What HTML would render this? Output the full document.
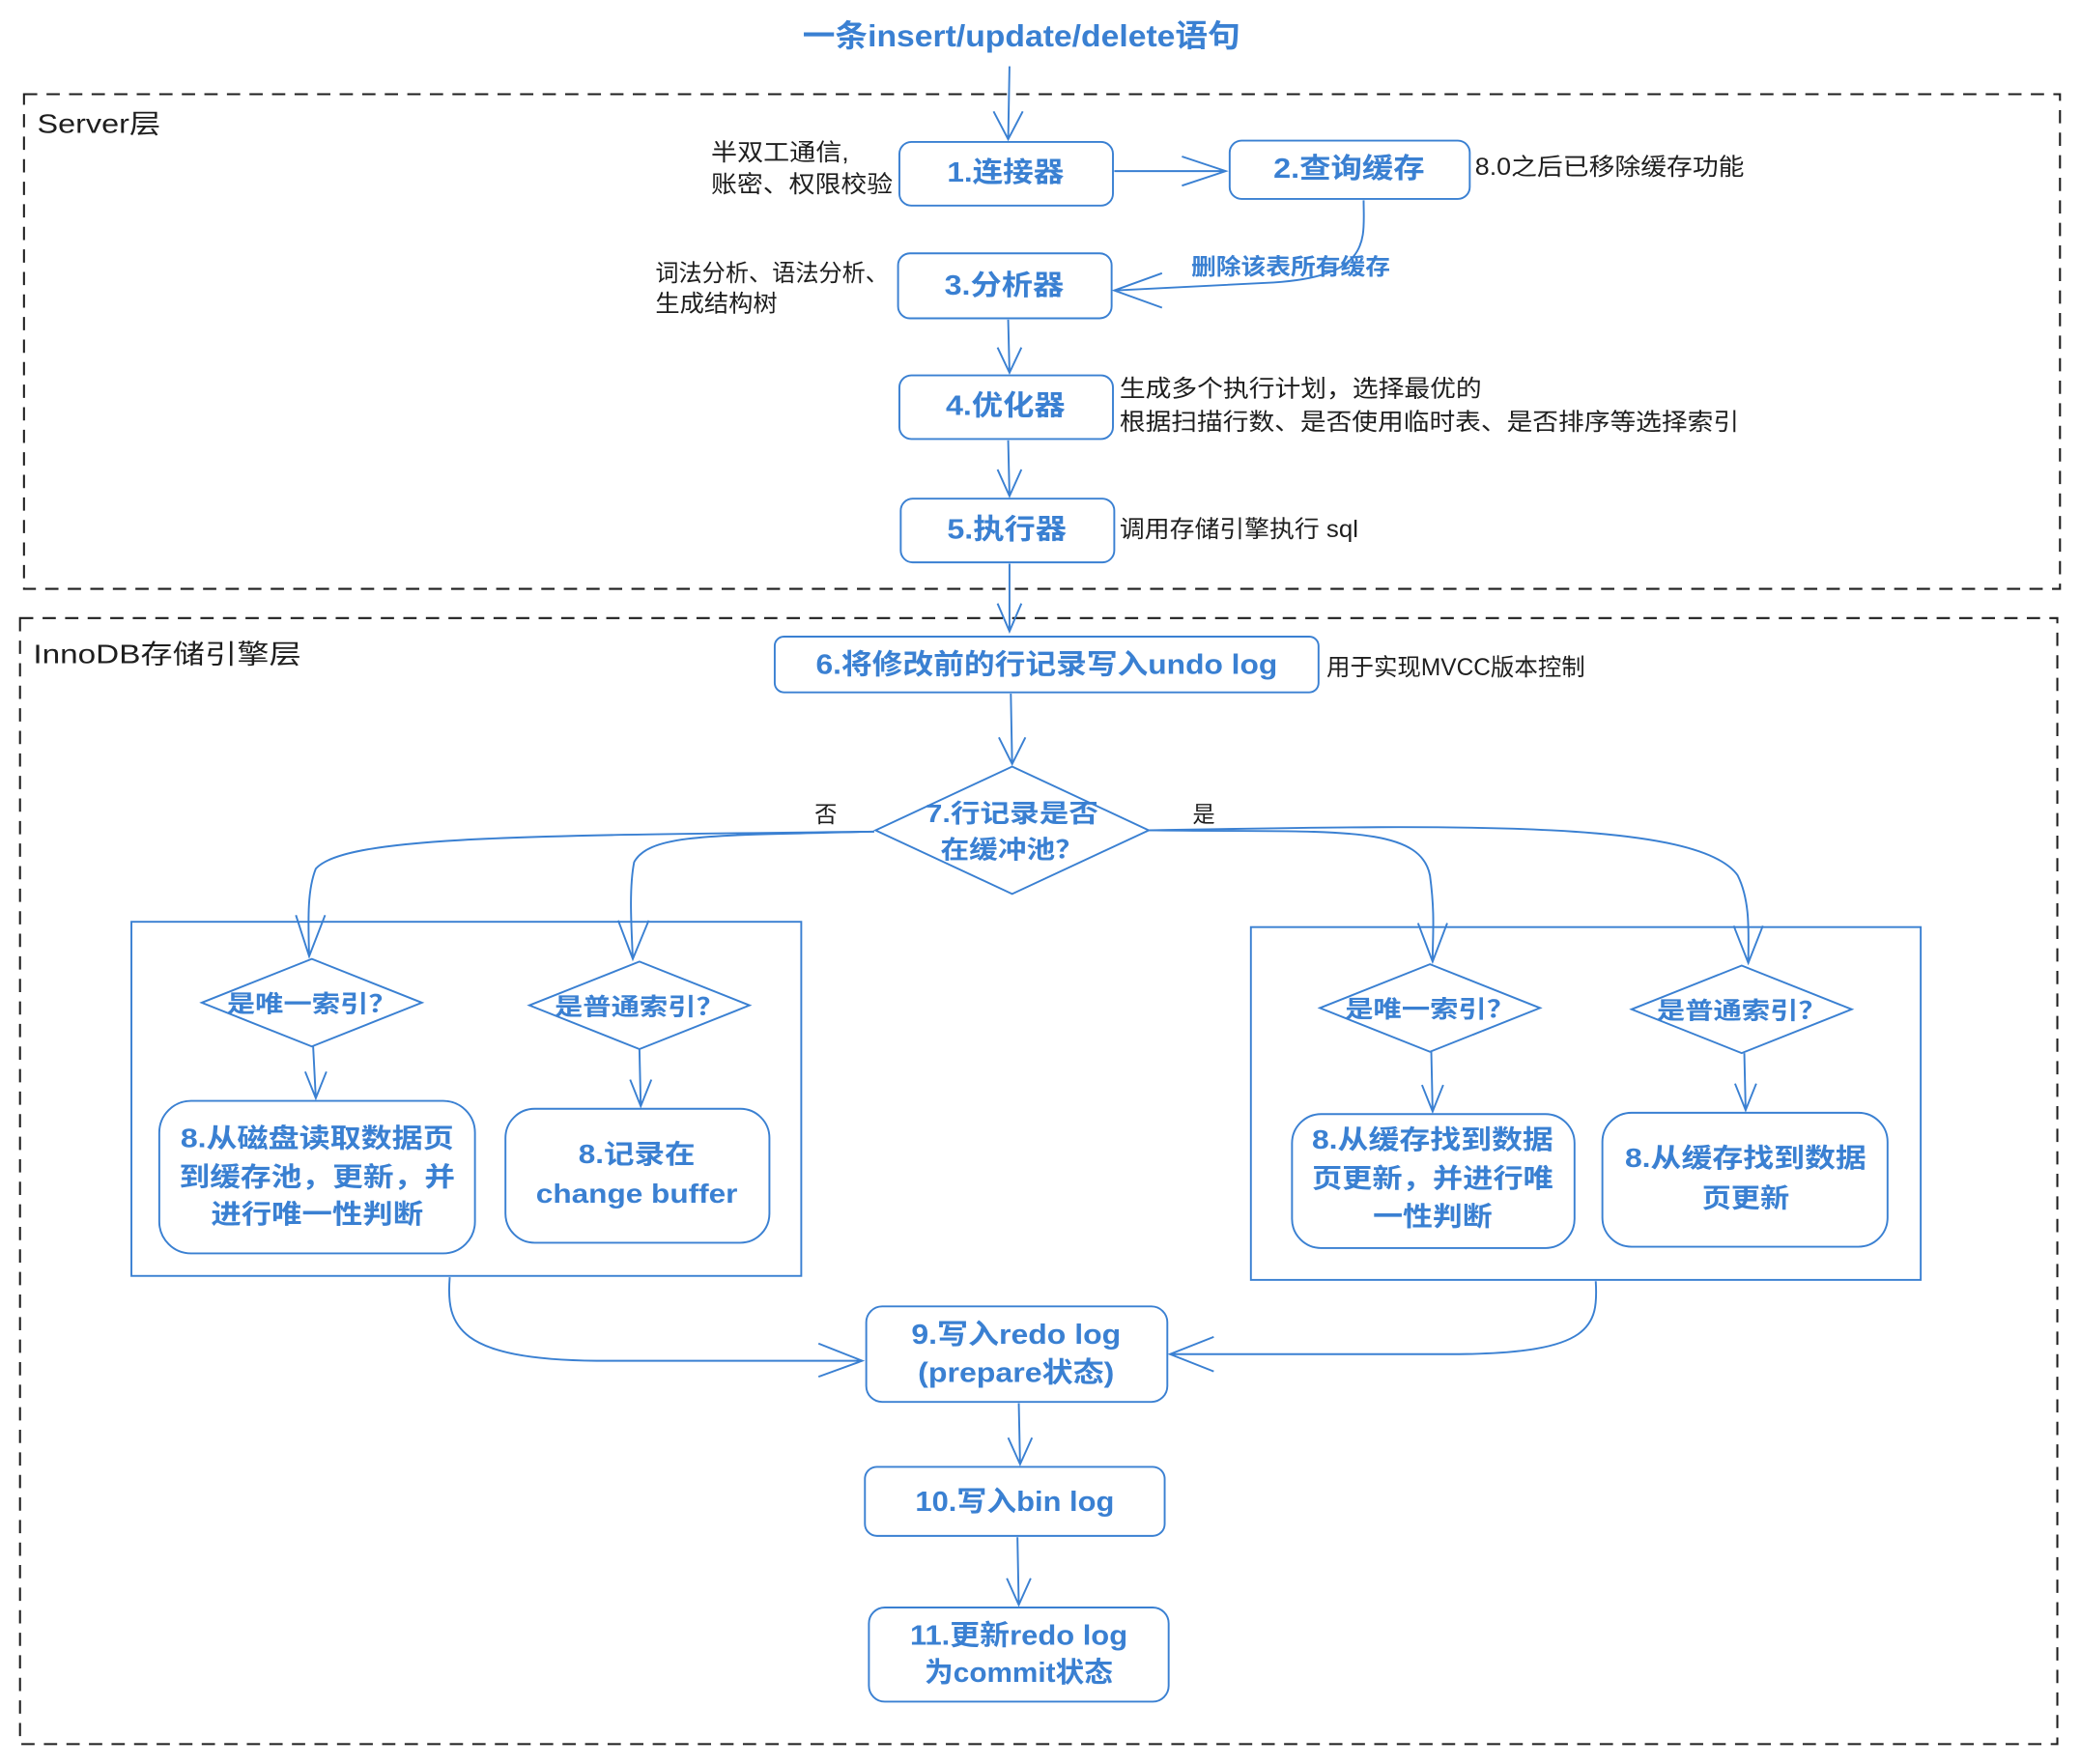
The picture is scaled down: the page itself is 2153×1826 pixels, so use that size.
<!DOCTYPE html>
<html><head><meta charset="utf-8"><style>
html,body{margin:0;padding:0;background:#fff;}
svg{display:block;}
text{font-family:"Liberation Sans","Noto Sans CJK SC",sans-serif;}
.b{fill:#3a80d2;font-weight:600;}
.k{fill:#1e1e1e;}
.s{fill:none;stroke:#3a80d2;stroke-width:1.4;}
.d{fill:none;stroke:#1e1e1e;stroke-width:1.5;stroke-dasharray:10 7;}
</style></head><body>
<svg width="2153" height="1826" viewBox="0 0 1568 1330" xmlns="http://www.w3.org/2000/svg">
<rect width="1568" height="1330" fill="#fff"/>
<text x="605" y="35" class="b" font-size="23" textLength="330" lengthAdjust="spacingAndGlyphs">一条insert/update/delete语句</text>
<rect x="18" y="71" width="1535" height="373" class="d"/>
<text x="28" y="100" class="k" font-size="20" textLength="93" lengthAdjust="spacingAndGlyphs">Server层</text>
<rect x="15" y="466" width="1536" height="849" class="d"/>
<text x="25" y="500" class="k" font-size="20" textLength="202" lengthAdjust="spacingAndGlyphs">InnoDB存储引擎层</text>

<g class="s">
<rect x="678" y="107" width="161" height="48" rx="9"/>
<rect x="927" y="106" width="181" height="44" rx="9"/>
<rect x="677" y="191" width="161" height="49" rx="9"/>
<rect x="678" y="283" width="161" height="48" rx="9"/>
<rect x="679" y="376" width="161" height="48" rx="9"/>
<rect x="584" y="480" width="410" height="42" rx="7"/>
<polygon points="763,578 866,626 763,674 660,626"/>
<rect x="99" y="695" width="505" height="267"/>
<rect x="943" y="699" width="505" height="266"/>
<polygon points="235,723 318,756 235,789 152,756"/>
<polygon points="482,725 565,758 482,791 399,758"/>
<polygon points="1078,727 1161,760 1078,793 995,760"/>
<polygon points="1313,728 1396,761 1313,794 1230,761"/>
<rect x="120" y="830" width="238" height="115" rx="24"/>
<rect x="381" y="836" width="199" height="101" rx="22"/>
<rect x="974" y="840" width="213" height="101" rx="22"/>
<rect x="1208" y="839" width="215" height="101" rx="22"/>
<rect x="653" y="985" width="227" height="72" rx="12"/>
<rect x="652" y="1106" width="226" height="52" rx="9"/>
<rect x="655" y="1212" width="226" height="71" rx="12"/>

<path d="M761 50 L760 105 M749 84 L760 105 L771 84"/>
<path d="M840 129 L924 129 M891 118 L924 129 L891 140"/>
<path d="M1028 151 C1028 180 1035 208 960 213 L840 219 M876 206 L840 219 L876 232"/>
<path d="M760 241 L761 281 M752 262 L761 281 L770 262"/>
<path d="M760 332 L761 374 M752 354 L761 374 L770 354"/>
<path d="M761 425 L761 476 M752 455 L761 476 L770 455"/>
<path d="M762 523 L763 576 M753 556 L763 576 L773 556"/>
<path d="M659 627 C400 630 260 630 238 655 C232 670 232 690 233 721 M223 690 L233 721 L245 690"/>
<path d="M659 627 C540 630 490 628 478 650 C474 670 476 700 477 723 M466 694 L477 723 L489 694"/>
<path d="M866 626 C1000 628 1070 620 1078 660 C1082 690 1080 705 1080 725 M1069 696 L1080 725 L1091 696"/>
<path d="M866 626 C1100 622 1280 618 1310 660 C1320 680 1318 705 1318 726 M1307 698 L1318 726 L1329 698"/>
<path d="M236 789 L238 828 M230 808 L238 828 L246 808"/>
<path d="M482 791 L483 834 M475 814 L483 834 L491 814"/>
<path d="M1079 793 L1080 838 M1072 818 L1080 838 L1088 818"/>
<path d="M1315 794 L1316 837 M1308 817 L1316 837 L1324 817"/>
<path d="M339 963 C336 1000 345 1025 450 1026 L650 1026 M617 1013 L650 1026 L617 1038"/>
<path d="M1203 966 C1205 1000 1200 1020 1100 1021 L882 1021 M915 1008 L882 1021 L915 1034"/>
<path d="M768 1058 L769 1104 M760 1084 L769 1104 L778 1084"/>
<path d="M767 1159 L768 1210 M759 1190 L768 1210 L777 1190"/>
</g>

<g class="b" font-size="21" text-anchor="middle" lengthAdjust="spacingAndGlyphs">
<text x="758" y="137" textLength="88" lengthAdjust="spacingAndGlyphs">1.连接器</text>
<text x="1017" y="134" textLength="114" lengthAdjust="spacingAndGlyphs">2.查询缓存</text>
<text x="757" y="222" textLength="90" lengthAdjust="spacingAndGlyphs">3.分析器</text>
<text x="758" y="313" textLength="90" lengthAdjust="spacingAndGlyphs">4.优化器</text>
<text x="759" y="406" textLength="90" lengthAdjust="spacingAndGlyphs">5.执行器</text>
<text x="789" y="508" textLength="348" lengthAdjust="spacingAndGlyphs">6.将修改前的行记录写入undo log</text>
<text x="763" y="620" font-size="19" textLength="130" lengthAdjust="spacingAndGlyphs">7.行记录是否</text>
<text x="763" y="647" font-size="19" textLength="108" lengthAdjust="spacingAndGlyphs">在缓冲池？</text>
<text x="235" y="763" font-size="18" textLength="128" lengthAdjust="spacingAndGlyphs">是唯一索引？</text>
<text x="482" y="765" font-size="18" textLength="128" lengthAdjust="spacingAndGlyphs">是普通索引？</text>
<text x="1078" y="767" font-size="18" textLength="128" lengthAdjust="spacingAndGlyphs">是唯一索引？</text>
<text x="1313" y="768" font-size="18" textLength="128" lengthAdjust="spacingAndGlyphs">是普通索引？</text>
<text x="239" y="865" font-size="20" textLength="206" lengthAdjust="spacingAndGlyphs">8.从磁盘读取数据页</text>
<text x="239" y="894" font-size="20" textLength="208" lengthAdjust="spacingAndGlyphs">到缓存池，更新，并</text>
<text x="239" y="922" font-size="20" textLength="160" lengthAdjust="spacingAndGlyphs">进行唯一性判断</text>
<text x="480" y="877" font-size="20" textLength="88" lengthAdjust="spacingAndGlyphs">8.记录在</text>
<text x="480" y="907" font-size="20" textLength="152" lengthAdjust="spacingAndGlyphs">change buffer</text>
<text x="1080" y="866" font-size="20" textLength="182" lengthAdjust="spacingAndGlyphs">8.从缓存找到数据</text>
<text x="1080" y="895" font-size="20" textLength="182" lengthAdjust="spacingAndGlyphs">页更新，并进行唯</text>
<text x="1080" y="924" font-size="20" textLength="90" lengthAdjust="spacingAndGlyphs">一性判断</text>
<text x="1316" y="880" font-size="20" textLength="182" lengthAdjust="spacingAndGlyphs">8.从缓存找到数据</text>
<text x="1316" y="910" font-size="20" textLength="66" lengthAdjust="spacingAndGlyphs">页更新</text>
<text x="766" y="1013" textLength="158" lengthAdjust="spacingAndGlyphs">9.写入redo log</text>
<text x="766" y="1042" textLength="148" lengthAdjust="spacingAndGlyphs">(prepare状态)</text>
<text x="765" y="1139" textLength="150" lengthAdjust="spacingAndGlyphs">10.写入bin log</text>
<text x="768" y="1240" textLength="164" lengthAdjust="spacingAndGlyphs">11.更新redo log</text>
<text x="768" y="1268" textLength="142" lengthAdjust="spacingAndGlyphs">为commit状态</text>
</g>
<text x="898" y="207" class="b" font-size="17" font-weight="400" textLength="150" lengthAdjust="spacingAndGlyphs">删除该表所有缓存</text>
<text x="614" y="620" class="k" font-size="17">否</text>
<text x="899" y="620" class="k" font-size="17">是</text>

<g class="k" font-size="18">
<text x="536" y="121" textLength="104" lengthAdjust="spacingAndGlyphs">半双工通信,</text>
<text x="536" y="145" textLength="137" lengthAdjust="spacingAndGlyphs">账密、权限校验</text>
<text x="1112" y="132" textLength="203" lengthAdjust="spacingAndGlyphs">8.0之后已移除缓存功能</text>
<text x="494" y="212" textLength="176" lengthAdjust="spacingAndGlyphs">词法分析、语法分析、</text>
<text x="494" y="235" textLength="92" lengthAdjust="spacingAndGlyphs">生成结构树</text>
<text x="844" y="299" textLength="273" lengthAdjust="spacingAndGlyphs">生成多个执行计划，选择最优的</text>
<text x="844" y="324" textLength="467" lengthAdjust="spacingAndGlyphs">根据扫描行数、是否使用临时表、是否排序等选择索引</text>
<text x="844" y="405" textLength="180" lengthAdjust="spacingAndGlyphs">调用存储引擎执行 sql</text>
<text x="1000" y="509" textLength="195" lengthAdjust="spacingAndGlyphs">用于实现MVCC版本控制</text>
</g>
</svg>
</body></html>
